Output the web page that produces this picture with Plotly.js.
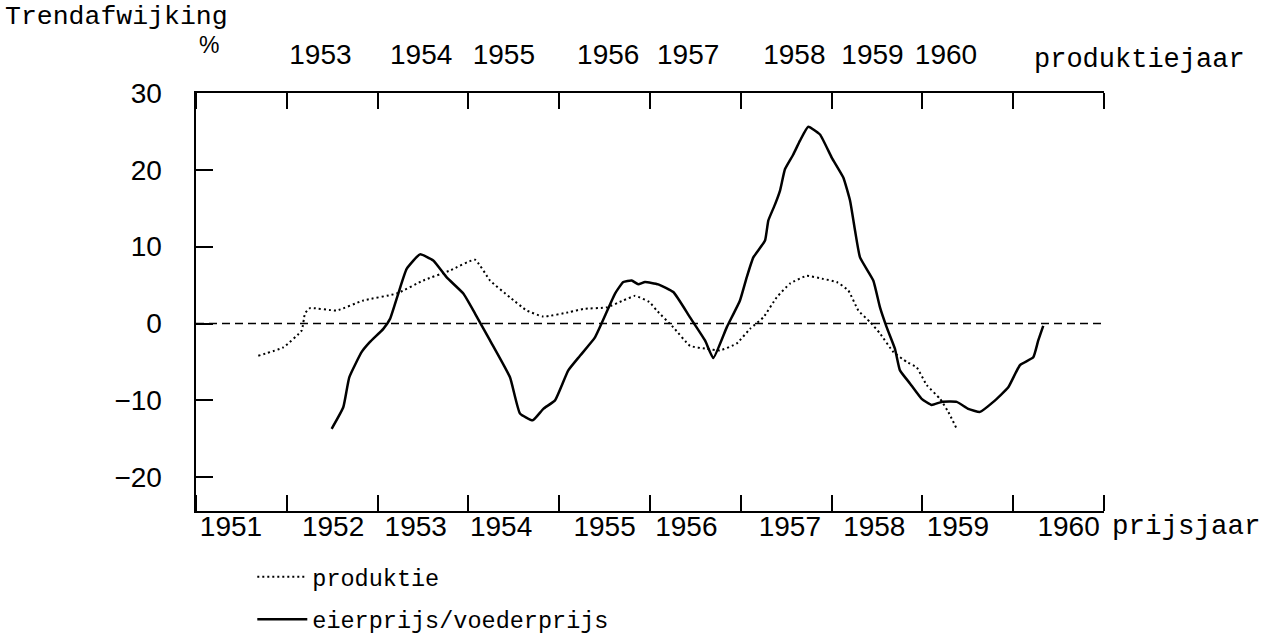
<!DOCTYPE html>
<html>
<head>
<meta charset="utf-8">
<script src="https://cdn.plot.ly/plotly-3.0.1.min.js"></script>
<style>
  html, body { margin: 0; padding: 0; background: #ffffff; }
  #chart { width: 1266px; height: 636px; }
</style>
</head>
<body>
<div id="chart"></div>
<script>
// x in units of the tick grid (0 = left axis, 10 = right end)
const TICK_POS = [0, 1, 2, 3, 4, 5, 6, 7, 8, 9, 10];
const PRIJS_LABELS = ['1951', '1952', '1953', '1954', '1955', '1956', '1957', '1958', '1959', '1960'];
const PRIJS_POS = [0.385, 1.51, 2.42, 3.36, 4.50, 5.40, 6.54, 7.47, 8.39, 9.61];
const PROD_LABELS = ['1953', '1954', '1955', '1956', '1957', '1958', '1959', '1960'];
const PROD_POS = [1.37, 2.48, 3.39, 4.54, 5.42, 6.59, 7.45, 8.26];
const Y_TICKS = [-20, -10, 0, 10, 20, 30];
const TREND_ZERO = 0;

// produktie (dotted)
const prodX = [0.686, 0.961, 1.164, 1.200, 1.256, 1.550, 1.843, 2.210, 2.503, 2.797, 3.073, 3.238, 3.458, 3.642, 3.825,
  4.119, 4.265, 4.523, 4.706, 4.835, 4.993, 5.074, 5.257, 5.441, 5.624, 5.771, 5.955, 6.101, 6.248, 6.395, 6.542,
  6.726, 6.909, 7.056, 7.184, 7.294, 7.423, 7.533, 7.680, 7.827, 7.937, 8.047, 8.194, 8.285, 8.378];
const prodY = [-4.2, -3.1, -0.9, 1.3, 2.0, 1.7, 3.0, 3.9, 5.6, 6.9, 8.3, 5.6, 3.4, 1.7, 0.9,
  1.5, 1.9, 2.1, 3.0, 3.6, 2.8, 1.7, -0.5, -2.9, -3.3, -3.5, -2.6, -0.7, 0.8, 3.4, 5.2,
  6.2, 5.8, 5.4, 4.3, 1.7, 0.2, -1.3, -3.7, -5.0, -5.7, -8.0, -9.8, -11.5, -13.7];

// eierprijs/voederprijs (solid)
const priceX = [1.494, 1.622, 1.688, 1.825, 1.916, 2.063, 2.137, 2.228, 2.320, 2.467, 2.613, 2.761, 2.944, 3.073, 3.238,
  3.458, 3.568, 3.708, 3.825, 3.954, 4.100, 4.229, 4.394, 4.504, 4.615, 4.706, 4.798, 4.871, 4.945, 5.091, 5.257,
  5.441, 5.606, 5.697, 5.845, 5.991, 6.065, 6.138, 6.267, 6.303, 6.377, 6.432, 6.487, 6.578, 6.652, 6.743, 6.872,
  7.001, 7.129, 7.203, 7.258, 7.313, 7.459, 7.533, 7.607, 7.698, 7.753, 7.863, 7.992, 8.102, 8.212, 8.378, 8.505,
  8.634, 8.781, 8.946, 9.075, 9.221, 9.276, 9.331];
const priceY = [-13.7, -10.9, -7.0, -3.7, -2.4, -0.7, 0.6, 3.9, 7.1, 9.0, 8.2, 6.0, 3.9, 1.3, -2.2,
  -7.0, -11.7, -12.6, -11.1, -10.0, -6.1, -4.2, -1.8, 1.0, 3.9, 5.4, 5.6, 5.1, 5.4, 5.1, 4.1,
  0.8, -2.2, -4.5, -0.5, 3.0, 6.0, 8.6, 10.8, 13.4, 15.5, 17.3, 20.1, 22.0, 23.8, 25.6, 24.6,
  21.6, 19.0, 16.0, 12.1, 8.6, 5.6, 2.1, -0.5, -3.3, -6.1, -7.8, -9.8, -10.6, -10.2, -10.2, -11.1,
  -11.5, -10.2, -8.3, -5.4, -4.4, -2.2, -0.3];

const NUM_FONT = '"Liberation Sans", Arial, sans-serif';
const TYPE_FONT = '"Liberation Mono", "DejaVu Sans Mono", monospace';

const traces = [
  {
    x: prodX, y: prodY, type: 'scatter', mode: 'lines', name: 'produktie',
    xaxis: 'x2', yaxis: 'y',
    line: { color: '#000', width: 2, dash: '2px,3px', shape: 'spline', smoothing: 0.4 },
    legendgroup: 'a', hoverinfo: 'skip'
  },
  {
    x: priceX, y: priceY, type: 'scatter', mode: 'lines', name: 'eierprijs/voederprijs',
    xaxis: 'x', yaxis: 'y',
    line: { color: '#000', width: 2.5, shape: 'spline', smoothing: 0.4 },
    legendgroup: 'b', hoverinfo: 'skip'
  }
];

const layout = {
  width: 1266, height: 636,
  margin: { l: 196, r: 162, t: 93, b: 125, autoexpand: false },
  paper_bgcolor: '#fff', plot_bgcolor: '#fff',
  showlegend: true,
  legend: {
    x: 0.062, xanchor: 'left', y: -0.105, yanchor: 'top',
    font: { family: TYPE_FONT, size: 23.5, color: '#000' },
    bgcolor: 'rgba(0,0,0,0)', tracegroupgap: 9, itemwidth: 50
  },
  // bottom axis: prijsjaar labels, frame and tick marks (minor ticks, mirrored on top)
  xaxis: {
    range: [0, 10], tickvals: PRIJS_POS, ticktext: PRIJS_LABELS, ticks: '',
    minor: { tickvals: TICK_POS, ticks: 'inside', ticklen: 16, tickwidth: 2, tickcolor: '#000', showgrid: false },
    showline: true, linewidth: 2, linecolor: '#000', mirror: 'ticks',
    tickfont: { family: NUM_FONT, size: 28, color: '#000' }, ticklabelstandoff: -11,
    showgrid: false, zeroline: false, fixedrange: true
  },
  // top axis: produktiejaar labels
  xaxis2: {
    overlaying: 'x', side: 'top', anchor: 'y', range: [0, 10],
    tickvals: PROD_POS, ticktext: PROD_LABELS, ticks: '', showline: false, showgrid: false, zeroline: false,
    tickfont: { family: NUM_FONT, size: 28, color: '#000' }, ticklabelstandoff: 22, fixedrange: true
  },
  yaxis: {
    range: [-24.4, 30], tickvals: Y_TICKS, ticktext: Y_TICKS.map(v => v < 0 ? '\u2212' + Math.abs(v) : String(v)),
    ticks: 'inside', ticklen: 17, tickwidth: 2, tickcolor: '#000',
    showline: true, linewidth: 2.5, linecolor: '#000', showgrid: false, zeroline: false,
    tickfont: { family: NUM_FONT, size: 28, color: '#000' }, ticklabelstandoff: 26, fixedrange: true
  },
  shapes: [
    { type: 'line', xref: 'paper', x0: 0, x1: 1, yref: 'y', y0: TREND_ZERO, y1: TREND_ZERO,
      line: { color: '#000', width: 1.6, dash: '8px,5px' }, layer: 'below' }
  ],
  annotations: [
    { text: 'Trendafwijking', xref: 'paper', yref: 'paper', x: -192 / 908, y: 1 + 76 / 418,
      xanchor: 'left', yanchor: 'middle', showarrow: false, borderpad: 0,
      font: { family: TYPE_FONT, size: 26.5, color: '#000' } },
    { text: '%', xref: 'paper', yref: 'paper', x: 13 / 908, y: 1 + 48 / 418,
      xanchor: 'center', yanchor: 'middle', showarrow: false, borderpad: 0,
      font: { family: NUM_FONT, size: 23, color: '#000' } },
    { text: 'produktiejaar', xref: 'paper', yref: 'paper', x: 836 / 908, y: 1 + 33 / 418,
      xanchor: 'left', yanchor: 'middle', showarrow: false,
      font: { family: TYPE_FONT, size: 27, color: '#000' } },
    { text: 'prijsjaar', xref: 'paper', yref: 'paper', x: 914 / 908, y: -15 / 418,
      xanchor: 'left', yanchor: 'middle', showarrow: false,
      font: { family: TYPE_FONT, size: 27.5, color: '#000' } }
  ]
};

Plotly.newPlot('chart', traces, layout, { displayModeBar: false, staticPlot: true });
</script>
</body>
</html>
